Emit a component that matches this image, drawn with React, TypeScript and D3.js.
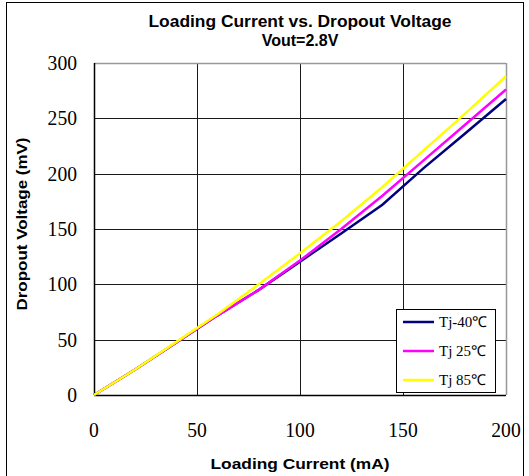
import React from "react";
import * as d3 from "d3";

const currents = [0, 20, 40, 60, 80, 100, 120, 140, 160, 180, 200];
const tjMinus40 = [0, 23, 47.5, 72, 95, 120.5, 146, 172, 205, 236, 267.5];
const tj25 = [0, 23, 47.5, 72, 95, 121.5, 150, 180, 212, 244, 276];
const tj85 = [0, 23, 48, 73, 100, 128, 157, 188, 221, 254, 288];
const seriesNames = ["Tj-40℃", "Tj 25℃", "Tj 85℃"];
const seriesColors = ["#000080", "#FF00FF", "#FFFF00"];
const xTicks = [0, 50, 100, 150, 200];
const yTicks = [0, 50, 100, 150, 200, 250, 300];

const W = 529, H = 476;
const L = 94, R = 506, T = 63, B = 395;

export default function App() {
  const x = d3.scaleLinear().domain([0, 200]).range([L, R]);
  const y = d3.scaleLinear().domain([0, 300]).range([B, T]);
  const allSeries = [tjMinus40, tj25, tj85];
  const line = d3
    .line<number>()
    .x((_, i) => x(currents[i]))
    .y((d) => y(d));
  const serif = "'Liberation Serif', 'Times New Roman', serif";
  const sans = "'Liberation Sans', Arial, sans-serif";
  const lgX = 396, lgY = 309, lgW = 99, lgH = 83;
  return (
    <svg
      width={W}
      height={H}
      style={{ position: "absolute", left: 0, top: 0, background: "#fff" }}
    >
      <rect x={0} y={0} width={W} height={H} fill="#fff" />
      <rect x={6.5} y={2.5} width={517} height={490} fill="none" stroke="#000" strokeWidth={1} />
      <text x={300} y={27} textAnchor="middle" fontFamily={sans} fontWeight="bold" fontSize={16}
        textLength={303} lengthAdjust="spacingAndGlyphs">
        Loading Current vs. Dropout Voltage
      </text>
      <text x={300} y={46} textAnchor="middle" fontFamily={sans} fontWeight="bold" fontSize={16}>
        Vout=2.8V
      </text>
      {/* gridlines */}
      {yTicks.filter((t) => t > 0 && t < 300).map((t) => (
        <line key={"gy" + t} x1={L} x2={R} y1={Math.round(y(t)) + 0.5} y2={Math.round(y(t)) + 0.5} stroke="#1a1a1a" strokeWidth={1} />
      ))}
      {xTicks.filter((t) => t > 0 && t < 200).map((t) => (
        <line key={"gx" + t} x1={Math.round(x(t)) + 0.5} x2={Math.round(x(t)) + 0.5} y1={T} y2={B} stroke="#1a1a1a" strokeWidth={1} />
      ))}
      {/* plot frame */}
      <line x1={L} x2={R} y1={T + 0.5} y2={T + 0.5} stroke="#999" strokeWidth={1.5} />
      <line x1={R + 0.5} x2={R + 0.5} y1={T} y2={B} stroke="#999" strokeWidth={1.5} />
      <line x1={L + 0.5} x2={L + 0.5} y1={T} y2={B} stroke="#000" strokeWidth={1.5} />
      <line x1={L} x2={R} y1={B + 0.5} y2={B + 0.5} stroke="#000" strokeWidth={1.5} />
      {/* tick labels */}
      {yTicks.map((t) => (
        <text key={"ty" + t} x={77} y={y(t) + 7} textAnchor="end" fontFamily={serif} fontSize={20}
          textLength={String(t).length * 9.8} lengthAdjust="spacingAndGlyphs">
          {t}
        </text>
      ))}
      {xTicks.map((t) => (
        <text key={"tx" + t} x={x(t)} y={437} textAnchor="middle" fontFamily={serif} fontSize={20}
          textLength={String(t).length * 9.8} lengthAdjust="spacingAndGlyphs">
          {t}
        </text>
      ))}
      <text x={300} y={469} textAnchor="middle" fontFamily={sans} fontWeight="bold" fontSize={15}
        textLength={179} lengthAdjust="spacingAndGlyphs">
        Loading Current (mA)
      </text>
      <text transform={`translate(27,${(T + B) / 2 - 5}) rotate(-90)`} textAnchor="middle" fontFamily={sans} fontWeight="bold" fontSize={15}
        textLength={173} lengthAdjust="spacingAndGlyphs">
        Dropout Voltage (mV)
      </text>
      {/* series */}
      {allSeries.map((s, i) => (
        <path key={"s" + i} d={line(s) || ""} fill="none" stroke={seriesColors[i]} strokeWidth={2.5} />
      ))}
      {/* legend */}
      <rect x={lgX + 0.5} y={lgY + 0.5} width={lgW} height={lgH} fill="#fff" stroke="#000" strokeWidth={1} />
      {seriesNames.map((n, i) => {
        const cy = 322 + i * 29;
        return (
          <g key={"lg" + i}>
            <line x1={403} x2={434} y1={cy} y2={cy} stroke={seriesColors[i]} strokeWidth={2.5} />
            <text x={439} y={cy + 5} fontFamily={serif} fontSize={15}>
              {n}
            </text>
          </g>
        );
      })}
    </svg>
  );
}
